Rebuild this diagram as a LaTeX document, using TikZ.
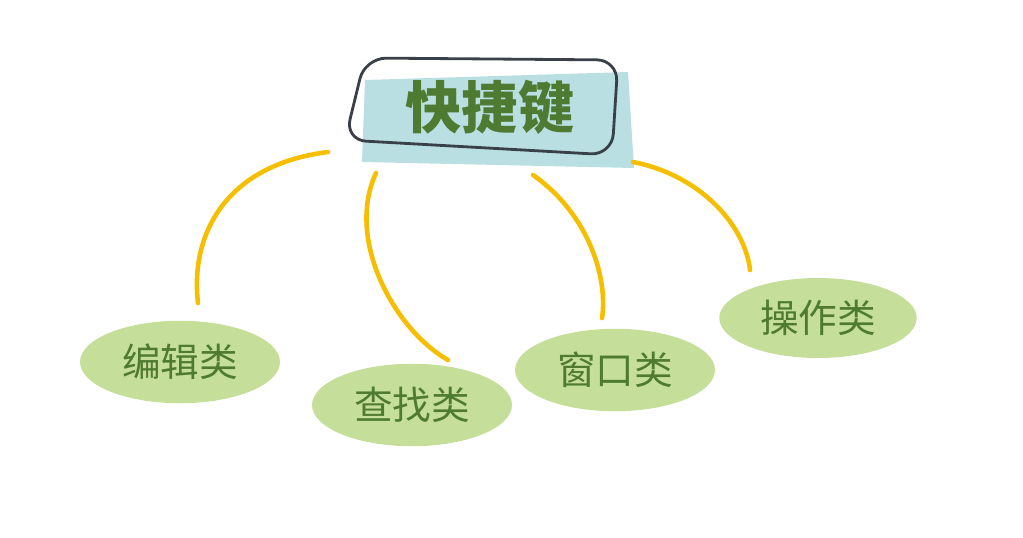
\documentclass[tikz,border=0pt]{standalone}
\usepackage{fontspec}
\newfontfamily\cjk{Noto Sans CJK SC}
\definecolor{blob}{HTML}{C5DF9A}
\definecolor{teal}{HTML}{B9DFE3}
\definecolor{txt}{HTML}{4E7A32}
\definecolor{line}{HTML}{F5BE00}
\definecolor{outl}{HTML}{3A4048}
\tikzset{leaf/.style={ellipse,fill=blob,minimum width=4cm,minimum height=1.65cm,font=\cjk\fontsize{22}{24}\selectfont,text=txt,inner sep=0pt},
conn/.style={line,line width=2.6pt,line cap=round}}
\usetikzlibrary{shapes.geometric}
\begin{document}
\begin{tikzpicture}[x=0.02cm,y=-0.02cm]
\useasboundingbox (0,0) rectangle (1023,537);
\fill[teal] (365,80) -- (628,72) -- (634,168) -- (362,162) -- cycle;
\draw[outl,line width=1.6pt,rounded corners=12pt] (365,58) -- (618,60) -- (612,155) -- (345,140) -- cycle;
\node[font=\cjk\bfseries\fontsize{32}{34}\selectfont,text=txt] (root) at (490,107) {快捷键};
\node[leaf] (a) at (180,362) {编辑类};
\node[leaf] (b) at (412,405) {查找类};
\node[leaf] (c) at (615,370) {窗口类};
\node[leaf,minimum width=3.95cm,minimum height=1.6cm] (d) at (818,318) {操作类};
\coordinate (a1) at (328,152); \coordinate (a2) at (198,303);
\coordinate (b1) at (376,173); \coordinate (b2) at (448,360);
\coordinate (c1) at (533,175); \coordinate (c2) at (602,318);
\coordinate (d1) at (633,162); \coordinate (d2) at (750,270);
\draw[conn] (a1) .. controls (225,165) and (190,235) .. (a2);
\draw[conn] (b1) .. controls (345,240) and (395,330) .. (b2);
\draw[conn] (c1) .. controls (590,215) and (608,280) .. (c2);
\draw[conn] (d1) .. controls (700,175) and (745,225) .. (d2);
\end{tikzpicture}
\end{document}
